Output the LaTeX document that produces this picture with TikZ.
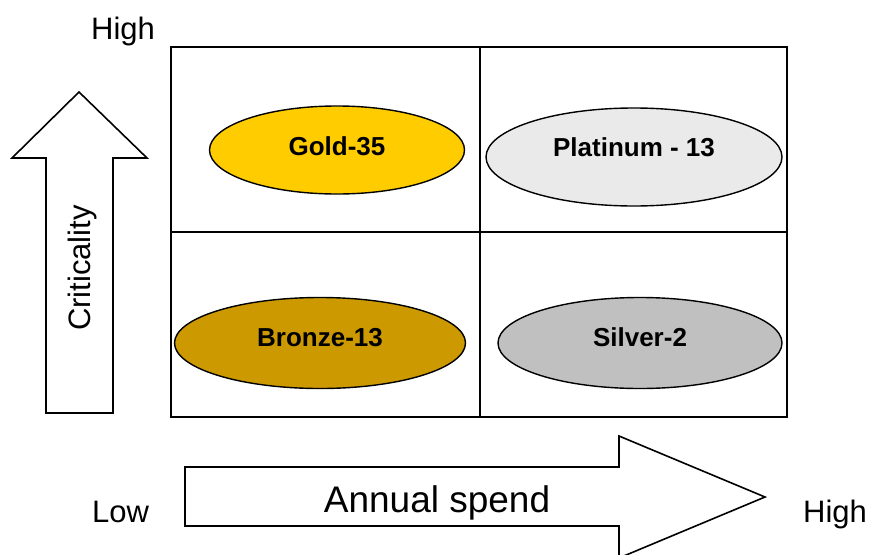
\documentclass[tikz,border=0pt]{standalone}
\usepackage{fontspec}
\setmainfont{Liberation Sans}
\usetikzlibrary{shapes.geometric}

\definecolor{goldfill}{HTML}{FFCC00}
\definecolor{platfill}{HTML}{EAEAEA}
\definecolor{bronzefill}{HTML}{CC9900}
\definecolor{silverfill}{HTML}{C0C0C0}

\tikzset{
  tier/.style={ellipse, draw=black, line width=1.4pt, inner sep=0pt,
    font=\fontsize{26}{28}\selectfont\bfseries},
  axistext/.style={anchor=base, inner sep=0pt, font=\fontsize{31}{33}\selectfont},
  bigarrow/.style={draw=black, fill=white, line width=1.6pt, line join=miter},
}

\begin{document}
\begin{tikzpicture}[x=1pt,y=-1pt]
  \useasboundingbox (0,0) rectangle (869,554);

  % 2x2 matrix
  \draw[line width=2pt] (171,47) rectangle (787,417);
  \draw[line width=2pt] (480,47) -- (480,417);
  \draw[line width=2pt] (171,232) -- (787,232);

  % the four tiers
  \node[tier, fill=goldfill, minimum width=255, minimum height=88, text depth=8pt] (gold) at (337,150) {Gold-35};
  \node[tier, fill=platfill, minimum width=296, minimum height=98, text depth=19pt] (platinum) at (634,157) {Platinum - 13};
  \node[tier, fill=bronzefill, minimum width=291, minimum height=91, text depth=11pt] (bronze) at (320,343) {Bronze-13};
  \node[tier, fill=silverfill, minimum width=284, minimum height=91, text depth=11pt] (silver) at (640,343) {Silver-2};

  % vertical axis arrow
  \filldraw[bigarrow] (79,92) -- (147,158) -- (113,158) -- (113,413)
    -- (46,413) -- (46,158) -- (12,158) -- cycle;
  \node[axistext, rotate=90] (crit) at (90,268) {Criticality};
  \node[axistext, anchor=base west] (yhigh) at (91,39) {High};

  % horizontal axis arrow
  \filldraw[bigarrow] (185,467) -- (619,467) -- (619,436) -- (765,497)
    -- (619,558) -- (619,526) -- (185,526) -- cycle;
  \node[axistext, font=\fontsize{37}{39}\selectfont] (spend) at (437,512) {Annual spend};
  \node[axistext, anchor=base west] (xlow) at (92,522) {Low};
  \node[axistext, anchor=base west] (xhigh) at (803,522) {High};
\end{tikzpicture}
\end{document}
